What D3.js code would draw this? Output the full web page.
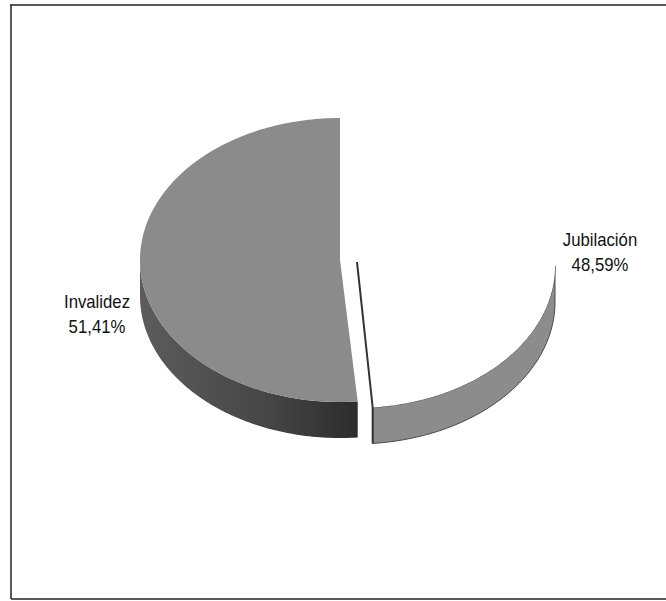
<!DOCTYPE html>
<html>
<head>
<meta charset="utf-8">
<script src="https://cdn.jsdelivr.net/npm/d3@7"></script>
<style>
    body { margin: 0; background: #fff; }
    svg { display: block; }
    .label { font-family: "Liberation Sans Narrow", "Arial Narrow", "Liberation Sans", sans-serif; font-size: 18px; fill: #111; }
</style>
</head>
<body>
<div id="chart"></div>
<script>
// Data
const categories = ["Invalidez", "Jubilación"];
const values = [51.41, 48.59];
const percentLabels = ["51,41%", "48,59%"];

document.addEventListener('DOMContentLoaded', function () {
    const width = 666, height = 601;

    // ellipse geometry of the tilted pie
    const cx = 340, cy = 260, rx = 200, ry = 142, depth = 36;
    const explode = { "Jubilación": [15, 6], "Invalidez": [0, 0] };
    const topFill = { "Invalidez": "#8b8b8b", "Jubilación": "#ffffff" };
    const sideFill = { "Invalidez": "url(#wallGrad)", "Jubilación": "#8c8c8c" };

    const svg = d3.select("#chart").append("svg")
        .attr("width", width)
        .attr("height", height);

    const defs = svg.append("defs");
    const grad = defs.append("linearGradient")
        .attr("id", "wallGrad")
        .attr("x1", "0%").attr("x2", "100%").attr("y1", "0%").attr("y2", "0%");
    grad.append("stop").attr("offset", "0%").attr("stop-color", "#5c5c5c");
    grad.append("stop").attr("offset", "60%").attr("stop-color", "#454545");
    grad.append("stop").attr("offset", "100%").attr("stop-color", "#2c2c2c");

    // frame (scanned page border)
    const frame = svg.append("g").attr("stroke", "#222").attr("stroke-width", 1.5).attr("fill", "none");
    frame.append("line").attr("x1", 10).attr("y1", 5).attr("x2", 666).attr("y2", 5);
    frame.append("line").attr("x1", 11).attr("y1", 5).attr("x2", 11).attr("y2", 599);
    frame.append("line").attr("x1", 11).attr("y1", 599).attr("x2", 666).attr("y2", 599);

    const data = categories.map((c, i) => ({ name: c, value: values[i], label: percentLabels[i] }));

    // Jubilación clockwise from 12 o'clock, Invalidez takes the rest
    const pie = d3.pie()
        .sort(null)
        .value(d => d.value)
        .startAngle(0)
        .endAngle(2 * Math.PI);
    const arcs = pie(data.slice().reverse());

    const line = d3.line();
    const step = Math.PI / 180;

    function pt(a, ox, oy, yoff) {
        return [ox + rx * Math.sin(a), oy - ry * Math.cos(a) + yoff];
    }
    function arcPts(a0, a1, ox, oy, yoff) {
        const pts = d3.range(a0, a1, step).map(a => pt(a, ox, oy, yoff));
        pts.push(pt(a1, ox, oy, yoff));
        return pts;
    }

    const g = svg.append("g");

    arcs.forEach(d => {
        const [dx, dy] = explode[d.data.name];
        const ox = cx + dx, oy = cy + dy;

        // visible front wall
        const w0 = Math.max(d.startAngle, Math.PI / 2);
        const w1 = Math.min(d.endAngle, 3 * Math.PI / 2);
        if (w1 > w0) {
            const wall = arcPts(w0, w1, ox, oy, 0)
                .concat(arcPts(w0, w1, ox, oy, depth).reverse());
            g.append("path")
                .attr("d", line(wall) + "Z")
                .attr("fill", sideFill[d.data.name])
                .attr("stroke", d.data.name === "Jubilación" ? "#4a4a4a" : "none")
                .attr("stroke-width", 1);
        }

        // top face
        const face = [[ox, oy]].concat(arcPts(d.startAngle, d.endAngle, ox, oy, 0));
        g.append("path")
            .attr("d", line(face) + "Z")
            .attr("fill", topFill[d.data.name])
            .attr("stroke", "none");

        // cut edge of the exploded slice
        if (d.data.name === "Jubilación") {
            g.append("path")
                .attr("d", line([[ox + 2, oy - 4], pt(d.endAngle, ox, oy, 0), pt(d.endAngle, ox, oy, depth)]))
                .attr("fill", "none")
                .attr("stroke", "#333")
                .attr("stroke-width", 2);
        }
    });

    // labels (squeezed a bit, the original font is a narrow one)
    const labelPos = { "Invalidez": [97, 308], "Jubilación": [600, 246] };
    data.forEach(d => {
        const [lx, ly] = labelPos[d.name];
        const t = svg.append("g")
            .attr("transform", "translate(" + lx + "," + ly + ") scale(0.93,1)")
            .append("text")
            .attr("class", "label")
            .attr("text-anchor", "middle");
        t.append("tspan").attr("x", 0).attr("y", 0).text(d.name);
        t.append("tspan").attr("x", 0).attr("y", 25).text(d.label);
    });
});
</script>
</body>
</html>
